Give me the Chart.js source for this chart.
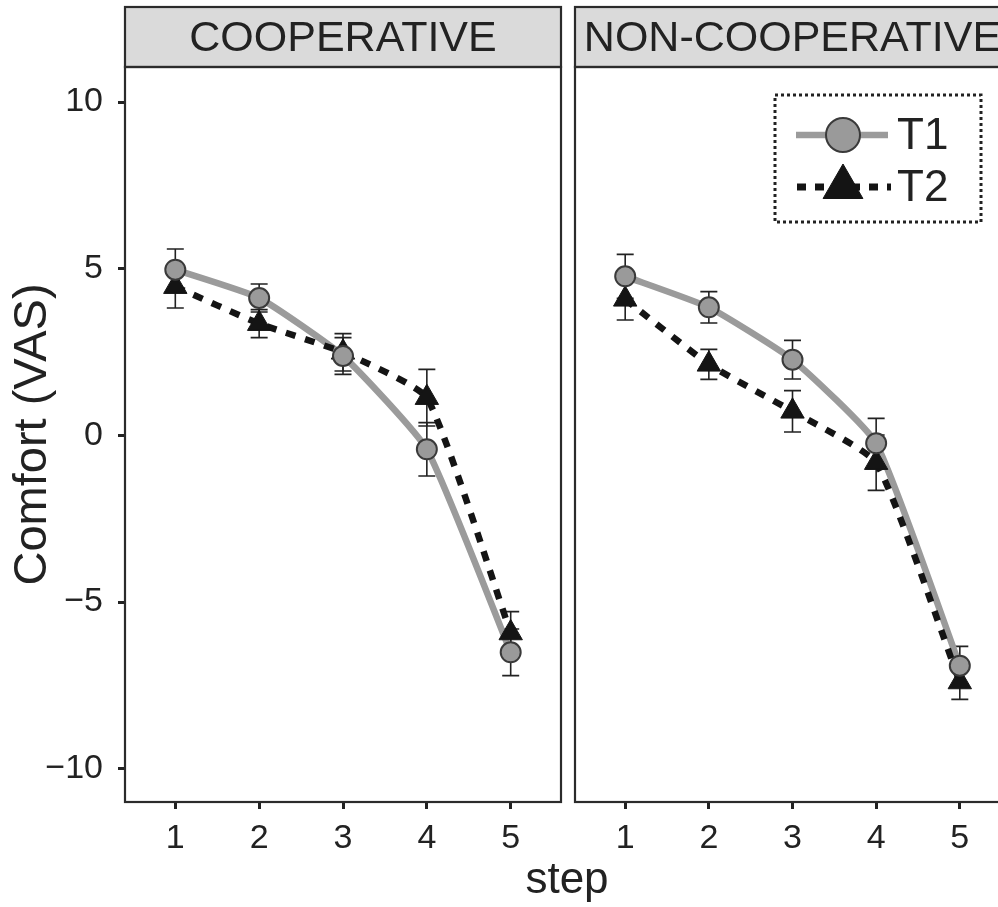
<!DOCTYPE html>
<html><head><meta charset="utf-8">
<script src="https://cdn.jsdelivr.net/npm/chart.js@4"></script>
<style>
html,body{margin:0;padding:0;overflow:hidden;background:#fff;width:998px;height:907px;}
#wrap{position:relative;width:1020px;height:907px;overflow:hidden;}
#c1{position:absolute;left:0;top:0;}
#c2{position:absolute;left:566px;top:0;}
#xt{position:absolute;left:467px;top:856px;width:200px;text-align:center;font-family:"Liberation Sans",Arial,sans-serif;font-size:44px;line-height:44px;color:#222;}
</style></head>
<body><div id="wrap">
<canvas id="c1" width="570" height="907"></canvas>
<canvas id="c2" width="450" height="907"></canvas>
<div id="xt">step</div>
</div>
<script>
// ---- data ----
const steps = [1, 2, 3, 4, 5];
const yTicks = [-10, -5, 0, 5, 10];
const panelTitles = ['COOPERATIVE', 'NON-COOPERATIVE'];
const seriesNames = ['T1', 'T2'];

const coopT1    = [4.97, 4.12, 2.38, -0.42, -6.51];
const coopT1Err = [0.62, 0.42, 0.55, 0.80, 0.70];
const coopT2    = [4.46, 3.35, 2.49, 1.13, -5.93];
const coopT2Err = [0.64, 0.42, 0.56, 0.85, 0.64];

const nonT1     = [4.77, 3.84, 2.27, -0.24, -6.91];
const nonT1Err  = [0.66, 0.47, 0.58, 0.75, 0.58];
const nonT2     = [4.08, 2.13, 0.72, -0.82, -7.40];
const nonT2Err  = [0.62, 0.45, 0.62, 0.83, 0.52];

// ---- styling ----
const FONT = '"Liberation Sans", Arial, sans-serif';
const TXT = '#222';
const GRAY_LINE = '#9b9b9b';
const GRAY_PT = '#9a9a9a';
const DARK = '#141414';

function pts(vals) { return steps.map((s, i) => ({ x: s, y: vals[i] })); }

function makeDatasets(t1, t2) {
  return [
    { label: seriesNames[0] + ' line', data: pts(t1), borderColor: GRAY_LINE, borderWidth: 6.5,
      pointRadius: 0, tension: 0.15, order: 4, fill: false },
    { label: seriesNames[1] + ' line', data: pts(t2), borderColor: DARK, borderWidth: 6.5,
      borderDash: [10, 10], pointRadius: 0, tension: 0.15, order: 3, fill: false },
    { label: seriesNames[1], data: pts(t2), showLine: false, pointStyle: 'triangle', pointRadius: 13.5,
      pointBackgroundColor: DARK, pointBorderColor: DARK, pointBorderWidth: 1, order: 2 },
    { label: seriesNames[0], data: pts(t1), showLine: false, pointStyle: 'circle', pointRadius: 10,
      pointBackgroundColor: GRAY_PT, pointBorderColor: '#3a3a3a', pointBorderWidth: 2, order: 1 }
  ];
}

function errPlugin(sets) {
  return {
    id: 'errbars',
    beforeDatasetsDraw(chart) {
      const ctx = chart.ctx, xs = chart.scales.x, ys = chart.scales.y;
      ctx.save();
      ctx.strokeStyle = '#222';
      ctx.lineWidth = 1.6;
      sets.forEach(([vals, errs]) => {
        steps.forEach((s, i) => {
          const x = xs.getPixelForValue(s);
          const y1 = ys.getPixelForValue(vals[i] + errs[i]);
          const y2 = ys.getPixelForValue(vals[i] - errs[i]);
          ctx.beginPath();
          ctx.moveTo(x, y1); ctx.lineTo(x, y2);
          ctx.moveTo(x - 8.5, y1); ctx.lineTo(x + 8.5, y1);
          ctx.moveTo(x - 8.5, y2); ctx.lineTo(x + 8.5, y2);
          ctx.stroke();
        });
      });
      ctx.restore();
    }
  };
}

function framePlugin(title) {
  return {
    id: 'frame',
    afterDraw(chart) {
      const ctx = chart.ctx, a = chart.chartArea;
      ctx.save();
      ctx.fillStyle = '#dadada';
      ctx.fillRect(a.left, 7, a.right - a.left, a.top - 7);
      ctx.strokeStyle = '#2b2b2b';
      ctx.lineWidth = 2.2;
      ctx.strokeRect(a.left, 7, a.right - a.left, a.top - 7);
      ctx.fillStyle = TXT;
      ctx.font = '43px ' + FONT;
      ctx.textAlign = 'center';
      ctx.textBaseline = 'middle';
      ctx.fillText(title, (a.left + a.right) / 2, (7 + a.top) / 2 + 2);
      ctx.strokeStyle = '#2b2b2b';
      ctx.lineWidth = 2.2;
      ctx.strokeRect(a.left, a.top, a.right - a.left, a.bottom - a.top);
      ctx.restore();
    }
  };
}

const legendPlugin = {
  id: 'customLegend',
  afterDraw(chart) {
    const ctx = chart.ctx, a = chart.chartArea;
    const bx = a.left + 200, by = a.top + 28, bw = 206, bh = 127;
    ctx.save();
    ctx.fillStyle = '#fff';
    ctx.fillRect(bx, by, bw, bh);
    ctx.strokeStyle = '#222';
    ctx.lineWidth = 3;
    ctx.setLineDash([3, 3]);
    ctx.strokeRect(bx, by, bw, bh);
    const r1 = by + 40, r2 = by + 92, mx = bx + 68;
    ctx.setLineDash([]);
    ctx.strokeStyle = GRAY_LINE; ctx.lineWidth = 6.5;
    ctx.beginPath(); ctx.moveTo(bx + 21, r1); ctx.lineTo(bx + 113, r1); ctx.stroke();
    ctx.fillStyle = GRAY_PT; ctx.strokeStyle = '#3a3a3a'; ctx.lineWidth = 2;
    Chart.helpers.drawPoint(ctx, { pointStyle: 'circle', radius: 17, borderWidth: 2, rotation: 0 }, mx, r1);
    ctx.strokeStyle = DARK; ctx.lineWidth = 7; ctx.setLineDash([9, 9]);
    ctx.beginPath(); ctx.moveTo(bx + 22, r2); ctx.lineTo(bx + 116, r2); ctx.stroke();
    ctx.setLineDash([]);
    ctx.fillStyle = DARK; ctx.strokeStyle = DARK; ctx.lineWidth = 1;
    Chart.helpers.drawPoint(ctx, { pointStyle: 'triangle', radius: 23, borderWidth: 1, rotation: 0 }, mx, r2);
    ctx.fillStyle = TXT;
    ctx.font = '44px ' + FONT;
    ctx.textAlign = 'left'; ctx.textBaseline = 'middle';
    ctx.fillText(seriesNames[0], bx + 122, r1 + 2);
    ctx.fillText(seriesNames[1], bx + 122, r2 + 2);
    ctx.restore();
  }
};

function xScale() {
  return {
    type: 'linear', min: 0.4, max: 5.6,
    afterBuildTicks: s => { s.ticks = steps.map(v => ({ value: v })); },
    grid: { drawOnChartArea: false, drawTicks: true, tickLength: 7, tickWidth: 3, tickColor: '#222' },
    border: { display: false },
    ticks: { font: { family: FONT, size: 34 }, color: TXT, padding: 9, maxRotation: 0, autoSkip: false },
    afterFit: s => { s.height = 105; s.paddingLeft = 0; s.paddingRight = 0; }
  };
}

function yScale(show) {
  return {
    min: -11, max: 11.05, display: show,
    afterBuildTicks: s => { s.ticks = yTicks.map(v => ({ value: v })); },
    grid: { drawOnChartArea: false, drawTicks: true, tickLength: 7, tickWidth: 3, tickColor: '#222' },
    border: { display: false },
    ticks: { font: { family: FONT, size: 34 }, color: TXT, padding: 15,
      callback: v => String(v).replace('-', '\u2212') },
    title: { display: show, text: 'Comfort (VAS)', color: TXT,
      font: { family: FONT, size: 47, lineHeight: 1 }, padding: { top: 10, bottom: 0 } },
    afterFit: s => { s.width = show ? 125 : 0; s.paddingTop = 0; s.paddingBottom = 0; }
  };
}

function baseOptions(padding, showY) {
  return {
    responsive: false, animation: false, devicePixelRatio: 1,
    layout: { padding, autoPadding: false },
    plugins: { legend: { display: false }, tooltip: { enabled: false }, title: { display: false } },
    scales: { x: xScale(), y: yScale(showY) }
  };
}

new Chart(document.getElementById('c1'), {
  type: 'line',
  data: { datasets: makeDatasets(coopT1, coopT2) },
  options: baseOptions({ top: 67, left: 0, right: 9, bottom: 0 }, true),
  plugins: [errPlugin([[coopT1, coopT1Err], [coopT2, coopT2Err]]), framePlugin(panelTitles[0])]
});

new Chart(document.getElementById('c2'), {
  type: 'line',
  data: { datasets: makeDatasets(nonT1, nonT2) },
  options: baseOptions({ top: 67, left: 9, right: 6, bottom: 0 }, false),
  plugins: [errPlugin([[nonT1, nonT1Err], [nonT2, nonT2Err]]), framePlugin(panelTitles[1]), legendPlugin]
});
</script>
</body></html>
